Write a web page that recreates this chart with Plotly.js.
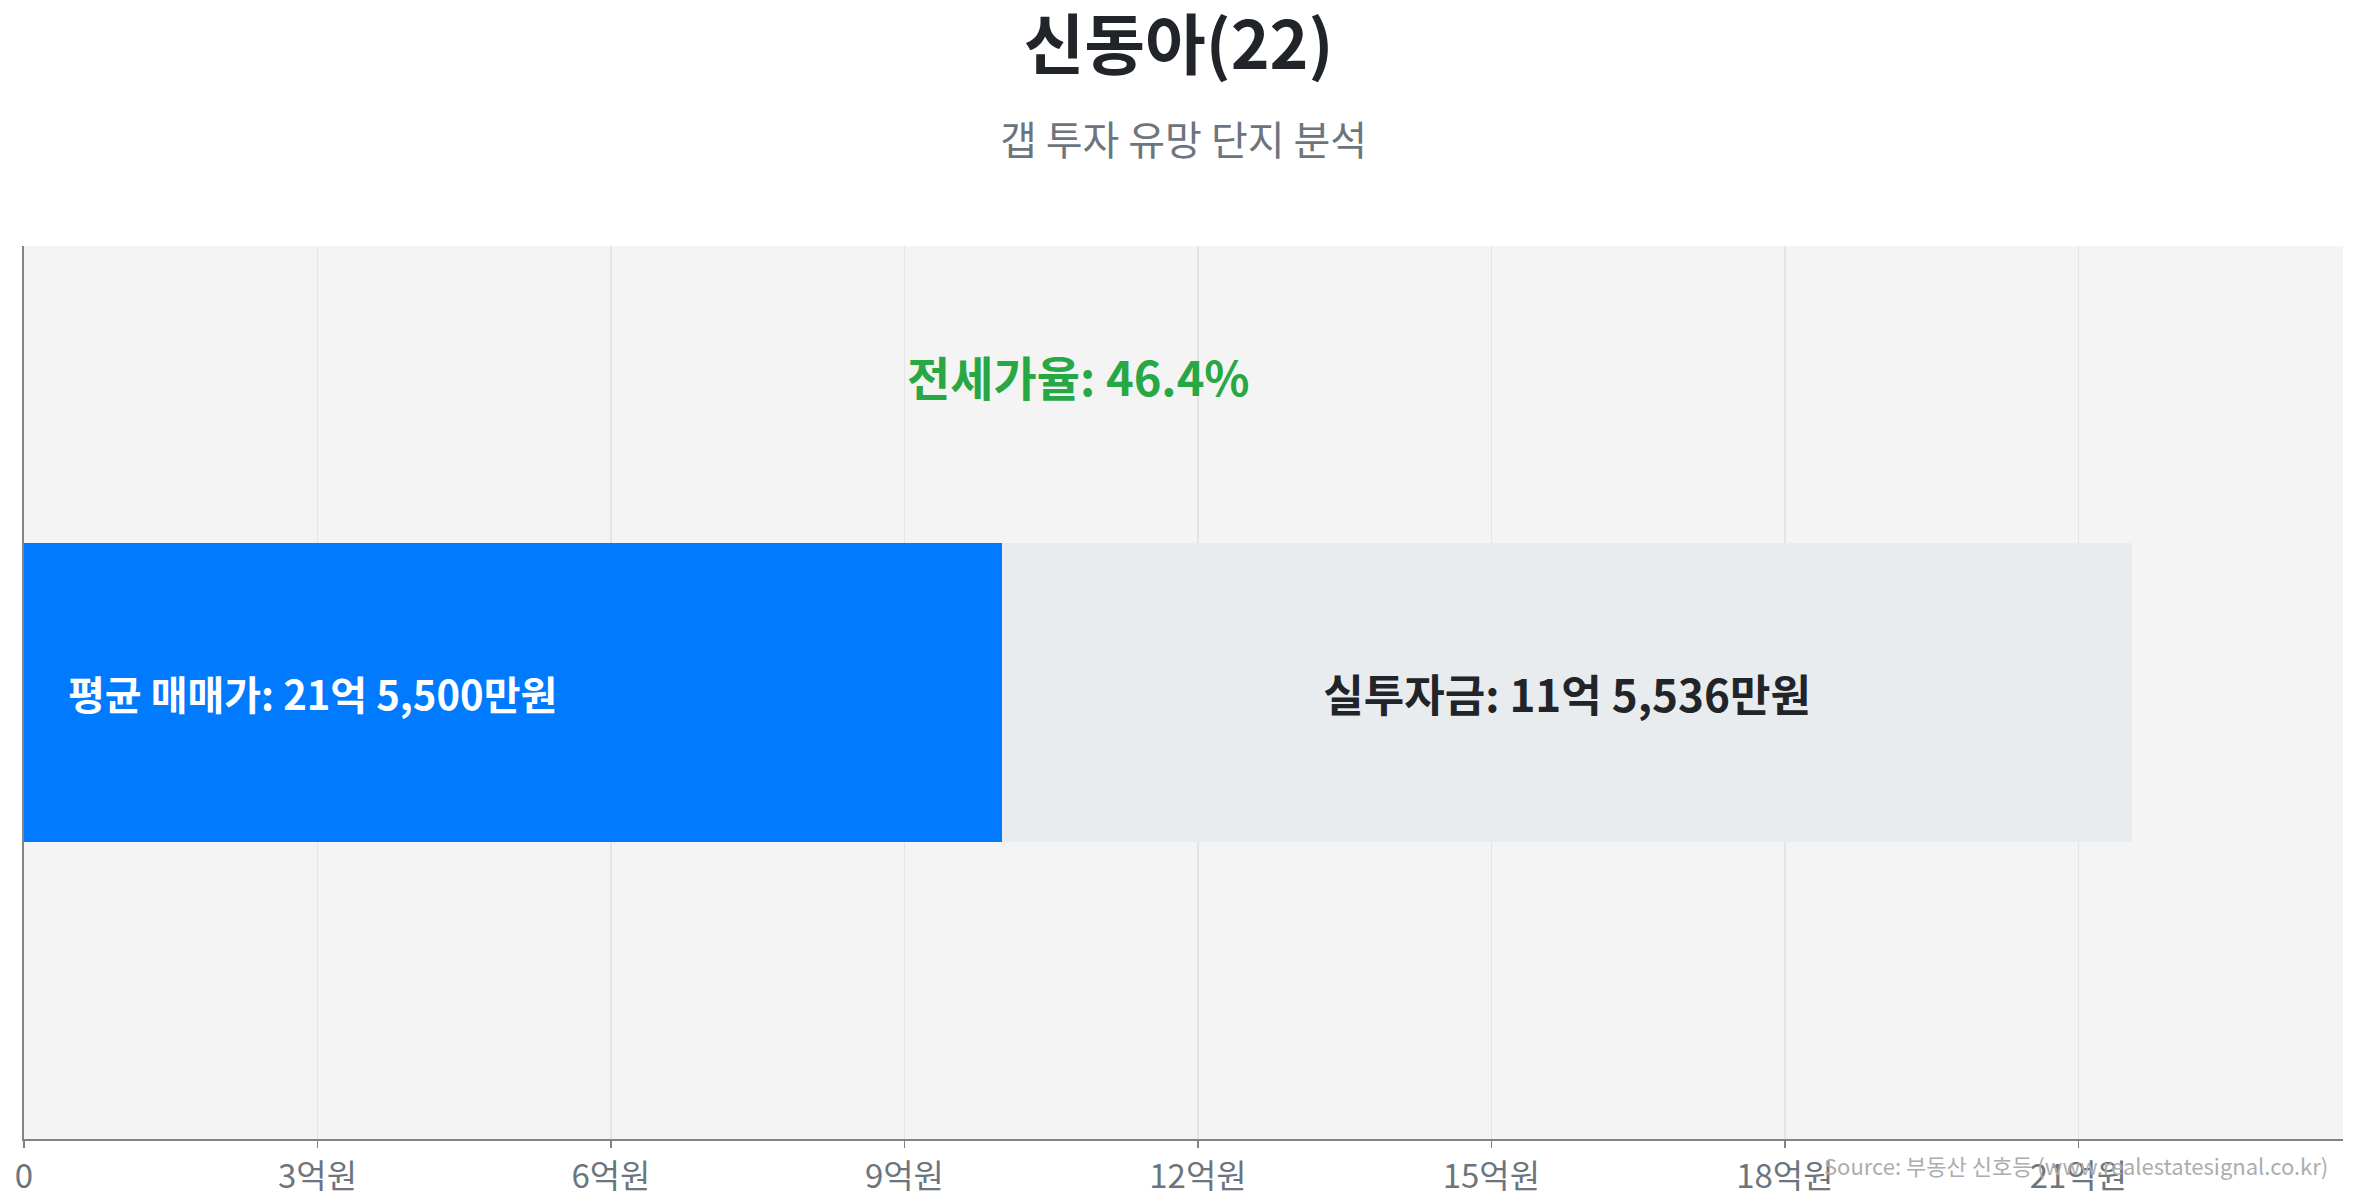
<!DOCTYPE html>
<html>
<head>
<meta charset="utf-8">
<script src="https://cdn.plot.ly/plotly-3.0.1.min.js"></script>
<style>
  html, body { margin: 0; padding: 0; background: #ffffff; }
  #chart { width: 2357px; height: 1201px; }
</style>
</head>
<body>
<div id="chart"></div>
<script>
// values in 만원
var complexNames = ['신동아(22)'];
var avgPrice = [215500];
var investment = [115536];
var jeonse = [99964];
var jeonseRatio = [46.4];
var tickVals = [0, 30000, 60000, 90000, 120000, 150000, 180000, 210000];
var tickText = ['0', '3억원', '6억원', '9억원', '12억원', '15억원', '18억원', '21억원'];

var FONT = '"Noto Sans CJK KR", "Noto Sans", sans-serif';

function fmtWon(v) {
  var eok = Math.floor(v / 10000);
  var man = Math.round(v % 10000);
  var s = '';
  if (eok > 0) s += eok + '억';
  if (man > 0) s += (s ? ' ' : '') + man.toLocaleString('en-US') + '만원';
  else s += '원';
  return s;
}

var jeonseTrace = {
  type: 'bar',
  orientation: 'h',
  y: complexNames,
  x: jeonse,
  width: 0.334,
  marker: {color: '#007bff'},
  hoverinfo: 'skip',
  showlegend: false
};

var gapTrace = {
  type: 'bar',
  orientation: 'h',
  y: complexNames,
  x: investment,
  width: 0.334,
  marker: {color: '#e9ecef'},
  text: investment.map(function (v) { return '<b>실투자금: ' + fmtWon(v) + '</b>'; }),
  textposition: 'inside',
  insidetextanchor: 'middle',
  textangle: 0,
  insidetextfont: {family: FONT, size: 44, color: '#212529'},
  constraintext: 'none',
  hoverinfo: 'skip',
  showlegend: false
};

var layout = {
  width: 2357,
  height: 1201,
  barmode: 'stack',
  paper_bgcolor: '#ffffff',
  plot_bgcolor: '#f4f4f4',
  margin: {l: 24, r: 14, t: 246, b: 62},
  font: {family: FONT, color: '#6c757d'},
  title: {
    text: '<b>' + complexNames[0] + '</b>',
    font: {family: FONT, size: 66, color: '#212529'},
    x: 0.5, xanchor: 'center',
    y: 1 - 46 / 1201, yanchor: 'middle', yref: 'container'
  },
  xaxis: {
    range: [0, avgPrice[0] * 1.1],
    tickvals: tickVals,
    ticktext: tickText,
    tickfont: {family: FONT, size: 33, color: '#6c757d'},
    showgrid: true,
    gridcolor: '#e4e4e4',
    gridwidth: 1.5,
    zeroline: false,
    showline: true,
    linecolor: '#7d848b',
    linewidth: 2,
    ticks: 'outside',
    ticklen: 7,
    tickwidth: 1.5,
    tickcolor: '#7d848b',
    fixedrange: true
  },
  yaxis: {
    type: 'category',
    range: [-0.5, 0.5],
    showticklabels: false,
    showgrid: false,
    zeroline: false,
    showline: true,
    linecolor: '#7d848b',
    linewidth: 2,
    fixedrange: true
  },
  annotations: [
    {
      text: '갭 투자 유망 단지 분석',
      xref: 'paper', yref: 'paper',
      x: 0.5, y: (1139 - 138) / 893,
      xanchor: 'center', yanchor: 'middle',
      showarrow: false,
      font: {family: FONT, size: 40, color: '#6c757d'}
    },
    {
      text: '<b>전세가율: ' + jeonseRatio[0].toFixed(1) + '%</b>',
      xref: 'x', yref: 'paper',
      x: avgPrice[0] / 2, y: 0.8555,
      xanchor: 'center', yanchor: 'middle',
      showarrow: false,
      font: {family: FONT, size: 47, color: '#28a745'}
    },
    {
      text: '<b>평균 매매가: ' + fmtWon(avgPrice[0]) + '</b>',
      xref: 'x', yref: 'y',
      x: 0, y: complexNames[0],
      xanchor: 'left', yanchor: 'middle',
      xshift: 42,
      showarrow: false,
      font: {family: FONT, size: 40, color: '#ffffff'}
    },
    {
      text: 'Source: 부동산 신호등 (www.realestatesignal.co.kr)',
      xref: 'paper', yref: 'paper',
      x: 0.9945, y: -0.029,
      xanchor: 'right', yanchor: 'middle',
      showarrow: false,
      font: {family: FONT, size: 22, color: '#adadad'}
    }
  ]
};

Plotly.newPlot('chart', [jeonseTrace, gapTrace], layout, {displayModeBar: false, staticPlot: true});
</script>
</body>
</html>
